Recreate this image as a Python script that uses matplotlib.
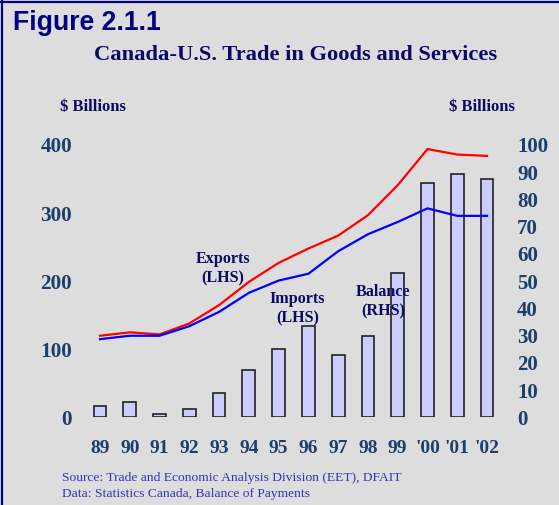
import matplotlib
matplotlib.use("Agg")
import matplotlib.pyplot as plt
from matplotlib.lines import Line2D
import numpy as np

years = ["89", "90", "91", "92", "93", "94", "95", "96", "97", "98", "99", "'00", "'01", "'02"]
exports = [120, 125, 122, 138, 165, 199, 227, 248, 267, 297, 341, 394, 386, 384]
imports = [115, 120, 120, 134, 155, 183, 201, 211, 244, 269, 287, 307, 296, 296]
balance = [4.2, 5.8, 1.3, 3.0, 9.0, 17.4, 25.0, 33.5, 22.9, 29.9, 53.2, 86.0, 89.3, 87.6]
left_ticks = [0, 100, 200, 300, 400]
right_ticks = [0, 10, 20, 30, 40, 50, 60, 70, 80, 90, 100]

W, H = 559, 505
fig = plt.figure(figsize=(W / 100, H / 100), dpi=100)
fig.patch.set_facecolor("#DDDDDD")

serif = "Liberation Serif"
sans = "Liberation Sans"
tick_color = "#1C3F6E"
navy = "#0A0A66"

# axes placement (pixels)
x0, x1 = 85.1, 501.9
y_top, y_bot = 145.0, 417.5
ax = fig.add_axes([x0 / W, (H - y_bot) / H, (x1 - x0) / W, (y_bot - y_top) / H])
ax2 = ax.twinx()
ax.set_zorder(2)
ax2.set_zorder(1)
ax.patch.set_visible(False)
ax2.patch.set_visible(False)

x = np.arange(len(years))
ax2.bar(x, balance, width=0.43, facecolor="#CCCCFF", edgecolor="#222222", linewidth=1.2)
ax.plot(x, exports, color="#FF0000", lw=1.6, clip_on=False)
ax.plot(x, imports, color="#0000FF", lw=1.6, clip_on=False)

ax.set_xlim(-0.5, len(years) - 0.5)
ax.set_ylim(0, 400)
ax2.set_ylim(0, 100)

for a in (ax, ax2):
    for s in a.spines.values():
        s.set_visible(False)

ax.set_xticks(x)
ax.set_xticklabels(years)
ax.set_yticks(left_ticks)
ax.set_yticklabels([str(v) for v in left_ticks])
ax2.set_yticks(right_ticks)
ax2.set_yticklabels([str(v) for v in right_ticks])

ax.tick_params(axis="x", length=0, pad=16, labelsize=14, labelcolor=tick_color)
ax.tick_params(axis="y", length=0, pad=9.5, labelsize=15.3, labelcolor=tick_color)
ax2.tick_params(axis="y", length=0, pad=11, labelsize=15, labelcolor=tick_color)
for lab in ax.get_xticklabels() + ax.get_yticklabels() + ax2.get_yticklabels():
    lab.set_fontfamily(serif)
    lab.set_fontweight("bold")

# annotations
ann = dict(fontfamily=serif, fontweight="bold", fontsize=11.6, color=navy,
           ha="center", va="center", linespacing=1.3, zorder=5)
ax.text(4.12, (y_bot - 269) / (y_bot - y_top) * 400, "Exports\n(LHS)", **ann)
ax.text(6.63, (y_bot - 309) / (y_bot - y_top) * 400, "Imports\n(LHS)", **ann)
ax.text(9.51, (y_bot - 302) / (y_bot - y_top) * 400, "Balance\n(RHS)", **ann)

# header texts
fig.text(13 / W, 1 - 30 / H, "Figure 2.1.1", fontfamily=sans, fontweight="bold",
         fontsize=19.2, color="#000080", ha="left", va="baseline")
fig.text(296 / W, 1 - 55 / H, "Canada-U.S. Trade in Goods and Services", fontfamily=serif,
         fontweight="bold", fontsize=16.2, color=navy, ha="center", va="center")
fig.text(93 / W, 1 - 107 / H, "$ Billions", fontfamily=serif, fontweight="bold",
         fontsize=12, color=navy, ha="center", va="center")
fig.text(482 / W, 1 - 107 / H, "$ Billions", fontfamily=serif, fontweight="bold",
         fontsize=12, color=navy, ha="center", va="center")

fig.text(62 / W, 1 - 478 / H, "Source: Trade and Economic Analysis Division (EET), DFAIT",
         fontfamily=serif, fontsize=9.7, color="#3333BB", ha="left", va="center")
fig.text(62 / W, 1 - 494 / H, "Data: Statistics Canada, Balance of Payments",
         fontfamily=serif, fontsize=9.7, color="#3333BB", ha="left", va="center")

# border (top and left)
fig.add_artist(Line2D([0, 1], [1 - 2 / H, 1 - 2 / H], transform=fig.transFigure,
                      color="#000080", lw=1.6))
fig.add_artist(Line2D([2 / W, 2 / W], [0, 1], transform=fig.transFigure,
                      color="#000080", lw=1.6))

fig.savefig("out.png", dpi=100, facecolor=fig.get_facecolor())
